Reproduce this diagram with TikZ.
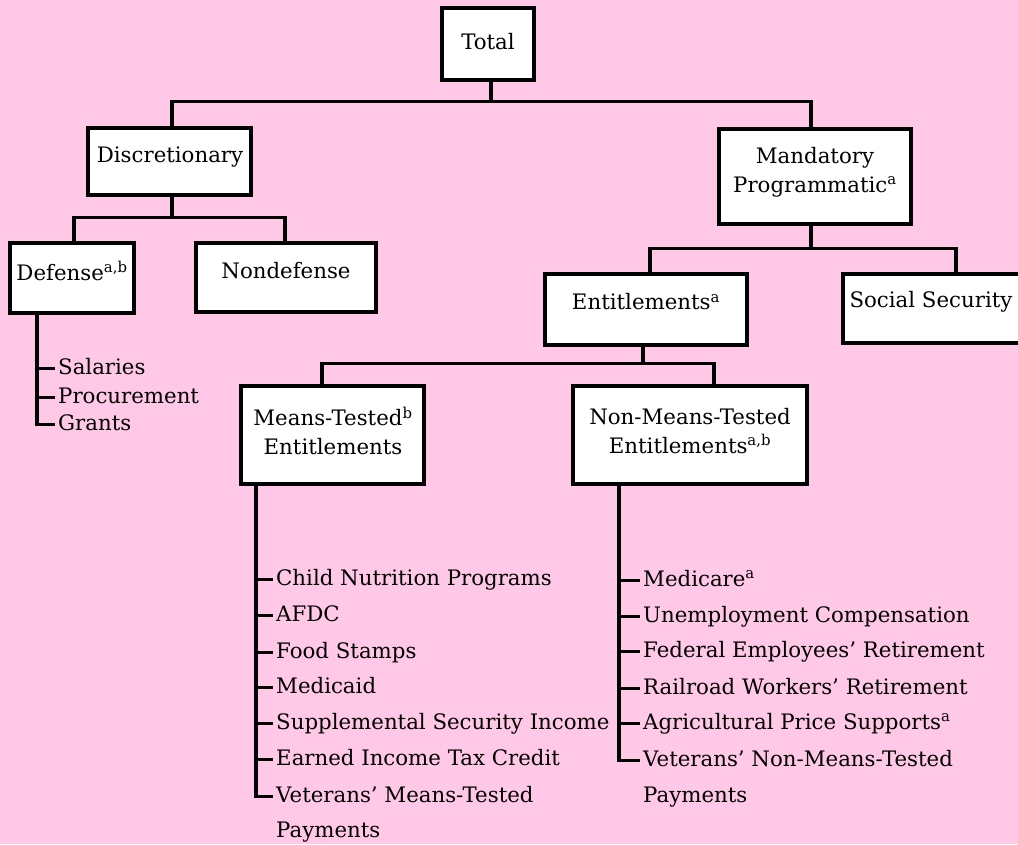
\documentclass[tikz,border=0pt]{standalone}
\usepackage{fontspec}
\setmainfont{DejaVu Serif}
\definecolor{bgpink}{RGB}{255,200,230}
\newcommand\fs{\fontsize{21.3}{29}\selectfont}
\tikzset{
  boxn/.style={draw=black, line width=3.3pt, fill=white, inner sep=0pt},
  lbl/.style={font=\fs, align=center, inner sep=0pt},
  itm/.style={font=\fs, anchor=base west, inner sep=0pt},
  conn/.style={draw=black, line width=3.3pt},
}
\begin{document}
\begin{tikzpicture}[x=1pt,y=-1pt]
\useasboundingbox (0,0) rectangle (1018,844);
\fill[bgpink] (0,0) rectangle (1018,844);

% boxes
\node[boxn, minimum width=92pt,  minimum height=72pt] (tot)      at (488,44)    {};
\node[boxn, minimum width=163pt, minimum height=67pt] (disc)     at (169.5,161.5) {};
\node[boxn, minimum width=124pt, minimum height=70pt] (def)      at (72,278)    {};
\node[boxn, minimum width=180pt, minimum height=69pt] (nondef)   at (286,277.5) {};
\node[boxn, minimum width=192pt, minimum height=95pt] (mand)     at (815,176.5) {};
\node[boxn, minimum width=202pt, minimum height=71pt] (ent)      at (646,309.5) {};
\node[boxn, minimum width=190pt, minimum height=69pt] (ss)       at (938,308.5) {};
\node[boxn, minimum width=183pt, minimum height=98pt] (means)    at (332.5,435) {};
\node[boxn, minimum width=234pt, minimum height=98pt] (nonmeans) at (690,435)   {};

% box labels
\node[lbl] (totL)      at (488,42)  {Total};
\node[lbl] (discL)     at (170,157) {Discretionary};
\node[lbl] (defL)      at (72,271)  {Defense\textsuperscript{a,b}};
\node[lbl] (nondefL)   at (286,271) {Nondefense};
\node[lbl] (mandL)     at (815,172) {Mandatory\\Programmatic\textsuperscript{a}};
\node[lbl] (entL)      at (646,302) {Entitlements\textsuperscript{a}};
\node[lbl] (ssL)       at (931,302) {Social Security};
\node[lbl] (meansL)    at (333,431) {Means-Tested\textsuperscript{b}\\Entitlements};
\node[lbl] (nonmeansL) at (690,431) {Non-Means-Tested\\Entitlements\textsuperscript{a,b}};

% tree connectors
\draw[conn] ([xshift=3pt]tot.south) -- ++(0,20) coordinate (h1);
\draw[conn] ([xshift=2.5pt]disc.north) |- (h1) -| ([xshift=-4pt]mand.north);
\draw[conn] ([xshift=2.5pt]disc.south) -- ++(0,21) coordinate (h2);
\draw[conn] ([xshift=2pt]def.north) |- (h2) -| ([xshift=-1pt]nondef.north);
\draw[conn] ([xshift=-4pt]mand.south) -- ++(0,23) coordinate (h3);
\draw[conn] ([xshift=4pt]ent.north) |- (h3) -| ([xshift=18pt]ss.north);
\draw[conn] ([xshift=-3pt]ent.south) -- ++(0,17) coordinate (h4);
\draw[conn] ([xshift=-10.5pt]means.north) |- (h4) -| ([xshift=24pt]nonmeans.north);

% defense list
\node[itm] (sal)  at (58,374) {Salaries};
\node[itm] (proc) at (58,403) {Procurement};
\node[itm] (gra)  at (58,430) {Grants};
\coordinate (sp1) at ([xshift=-35pt]def.south);
\foreach \n in {sal,proc,gra} \coordinate (\n T) at ([xshift=-3pt,yshift=5.5pt]\n.base west);
\draw[conn] (sp1) |- (graT);
\foreach \n in {sal,proc} \draw[conn] (sp1 |- \n T) -- (\n T);

% means-tested list
\node[itm] (m1) at (276,585) {Child Nutrition Programs};
\node[itm] (m2) at (276,621) {AFDC};
\node[itm] (m3) at (276,658) {Food Stamps};
\node[itm] (m4) at (276,693) {Medicaid};
\node[itm] (m5) at (276,729) {Supplemental Security Income};
\node[itm] (m6) at (276,765) {Earned Income Tax Credit};
\node[itm] (m7) at (276,802) {Veterans’ Means-Tested};
\node[itm] (m7b) at (276,837) {Payments};
\coordinate (sp2) at ([xshift=-76.5pt]means.south);
\foreach \n in {m1,m2,m3,m4,m5,m6,m7} \coordinate (\n T) at ([xshift=-3pt,yshift=5.5pt]\n.base west);
\draw[conn] (sp2) |- (m7T);
\foreach \n in {m1,m2,m3,m4,m5,m6} \draw[conn] (sp2 |- \n T) -- (\n T);

% non-means-tested list
\node[itm] (n1) at (643,586) {Medicare\textsuperscript{a}};
\node[itm] (n2) at (643,622) {Unemployment Compensation};
\node[itm] (n3) at (643,657) {Federal Employees’ Retirement};
\node[itm] (n4) at (643,694) {Railroad Workers’ Retirement};
\node[itm] (n5) at (643,729) {Agricultural Price Supports\textsuperscript{a}};
\node[itm] (n6) at (643,766) {Veterans’ Non-Means-Tested};
\node[itm] (n6b) at (643,802) {Payments};
\coordinate (sp3) at ([xshift=-71pt]nonmeans.south);
\foreach \n in {n1,n2,n3,n4,n5,n6} \coordinate (\n T) at ([xshift=-3pt,yshift=5.5pt]\n.base west);
\draw[conn] (sp3) |- (n6T);
\foreach \n in {n1,n2,n3,n4,n5} \draw[conn] (sp3 |- \n T) -- (\n T);
\end{tikzpicture}
\end{document}
